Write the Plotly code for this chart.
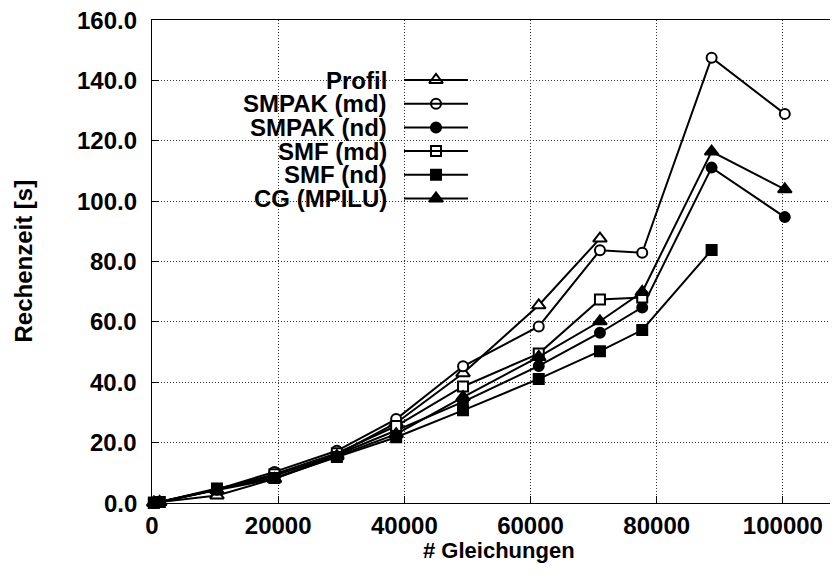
import plotly.graph_objects as go

# ---- data ----
x_all = [300, 1200, 10300, 19400, 29300, 38700, 49300, 61300, 71000, 77700, 88700, 100300]

profil = [0.1, 0.3, 2.5, 8.0, 16.0, 26.5, 43.0, 65.5, 87.6]
smpak_md = [0.1, 0.3, 4.5, 10.3, 17.3, 27.8, 45.3, 58.5, 83.7, 82.9, 147.5, 128.9]
smpak_nd = [0.1, 0.3, 4.5, 9.0, 16.0, 24.0, 33.5, 45.4, 56.4, 64.8, 111.1, 94.7]
smf_md = [0.1, 0.3, 4.5, 9.5, 16.5, 25.5, 38.6, 49.5, 67.4, 68.1]
smf_nd = [0.1, 0.3, 4.8, 8.3, 15.2, 21.8, 30.7, 41.1, 50.3, 57.3, 83.8]
cg_mpilu = [0.1, 0.3, 4.3, 8.0, 15.5, 22.8, 35.1, 48.4, 60.2, 69.9, 116.4, 103.9]

series_names = ["Profil", "SMPAK (md)", "SMPAK (nd)", "SMF (md)", "SMF (nd)", "CG (MPILU)"]
series_values = [profil, smpak_md, smpak_nd, smf_md, smf_nd, cg_mpilu]
series_symbols = ["triangle-up", "circle", "circle", "square", "square", "triangle-up"]
series_fill = ["white", "white", "black", "white", "black", "black"]

x_ticks = [0, 20000, 40000, 60000, 80000, 100000]
y_ticks = [0, 20, 40, 60, 80, 100, 120, 140, 160]

W, H = 838, 577
L, R, T, B = 144, 0, 12, 82
pw, ph = W - L - R, H - T - B
FONT = "Liberation Sans, Arial, sans-serif"
FS = 24
LW = 2


def msize(sym):
    return 12 if "triangle" in sym else 10


fig = go.Figure()
for name, vals, sym, fill in zip(series_names, series_values, series_symbols, series_fill):
    fig.add_trace(go.Scatter(
        x=x_all[:len(vals)], y=vals, mode="lines+markers", name=name,
        line=dict(color="black", width=LW),
        marker=dict(symbol=sym, size=msize(sym), color=fill,
                    line=dict(color="black", width=LW)),
        showlegend=False, cliponaxis=False,
    ))

# manual legend (label right-aligned, sample line with marker on its right)
leg_text_right = 381
leg_x0, leg_xm, leg_x1 = 396, 428, 460
leg_y0, leg_dy = 72, 23.7
annotations = []
shapes = []
for i, (name, sym, fill) in enumerate(zip(series_names, series_symbols, series_fill)):
    py = leg_y0 + i * leg_dy
    yp = (T + ph - py) / ph
    annotations.append(dict(x=(leg_text_right - L) / pw, y=yp, xref="paper", yref="paper",
                            text="<b>%s</b>" % name, showarrow=False, xanchor="right",
                            yanchor="middle", font=dict(family=FONT, size=FS, color="black")))
    shapes.append(dict(type="line", xref="paper", yref="paper",
                       x0=(leg_x0 - L) / pw, x1=(leg_x1 - L) / pw, y0=yp, y1=yp,
                       line=dict(color="black", width=LW)))
    fig.add_trace(go.Scatter(
        x=[(leg_xm - L) / pw], y=[yp], xaxis="x2", yaxis="y2", mode="markers",
        marker=dict(symbol=sym, size=msize(sym), color=fill,
                    line=dict(color="black", width=LW)),
        showlegend=False, hoverinfo="skip"))

# y tick labels as annotations (so the top one is never dropped)
for v in y_ticks:
    annotations.append(dict(x=0, y=v, xref="paper", yref="y", text="<b>%.1f</b>" % v,
                            showarrow=False, xanchor="right", yanchor="middle", xshift=-13,
                            font=dict(family=FONT, size=FS, color="black")))

annotations.append(dict(x=0.5, y=(T + ph - 542) / ph, xref="paper", yref="paper",
                        text="<b># Gleichungen</b>", showarrow=False, xanchor="center",
                        yanchor="middle", font=dict(family=FONT, size=22, color="black")))
annotations.append(dict(x=(15 - L) / pw, y=0.5, xref="paper", yref="paper",
                        text="<b>Rechenzeit [s]</b>", showarrow=False, textangle=-90,
                        xanchor="center", yanchor="middle",
                        font=dict(family=FONT, size=FS, color="black")))

fig.update_layout(
    width=W, height=H,
    margin=dict(l=L, r=R, t=T, b=B, pad=0),
    paper_bgcolor="white", plot_bgcolor="white",
    font=dict(family=FONT, size=FS, color="black"),
    xaxis=dict(range=[0, 110000], tickvals=x_ticks,
               ticktext=["<b>%d</b>" % v for v in x_ticks],
               ticks="inside", ticklen=7, tickcolor="black", tickwidth=1,
               showline=True, linecolor="black", linewidth=1, mirror=True,
               showgrid=True, gridcolor="#333", griddash="1px,2px", gridwidth=1,
               zeroline=False, ticklabelstandoff=1, automargin=False),
    yaxis=dict(range=[0, 160], tickvals=y_ticks, showticklabels=False,
               ticks="inside", ticklen=7, tickcolor="black", tickwidth=1,
               showline=True, linecolor="black", linewidth=1,
               showgrid=True, gridcolor="#333", griddash="1px,2px", gridwidth=1,
               zeroline=False, automargin=False),
    xaxis2=dict(range=[0, 1], overlaying="x", visible=False, fixedrange=True),
    yaxis2=dict(range=[0, 1], overlaying="y", visible=False, fixedrange=True),
    annotations=annotations, shapes=shapes, showlegend=False,
)
fig.write_html("out.html")
